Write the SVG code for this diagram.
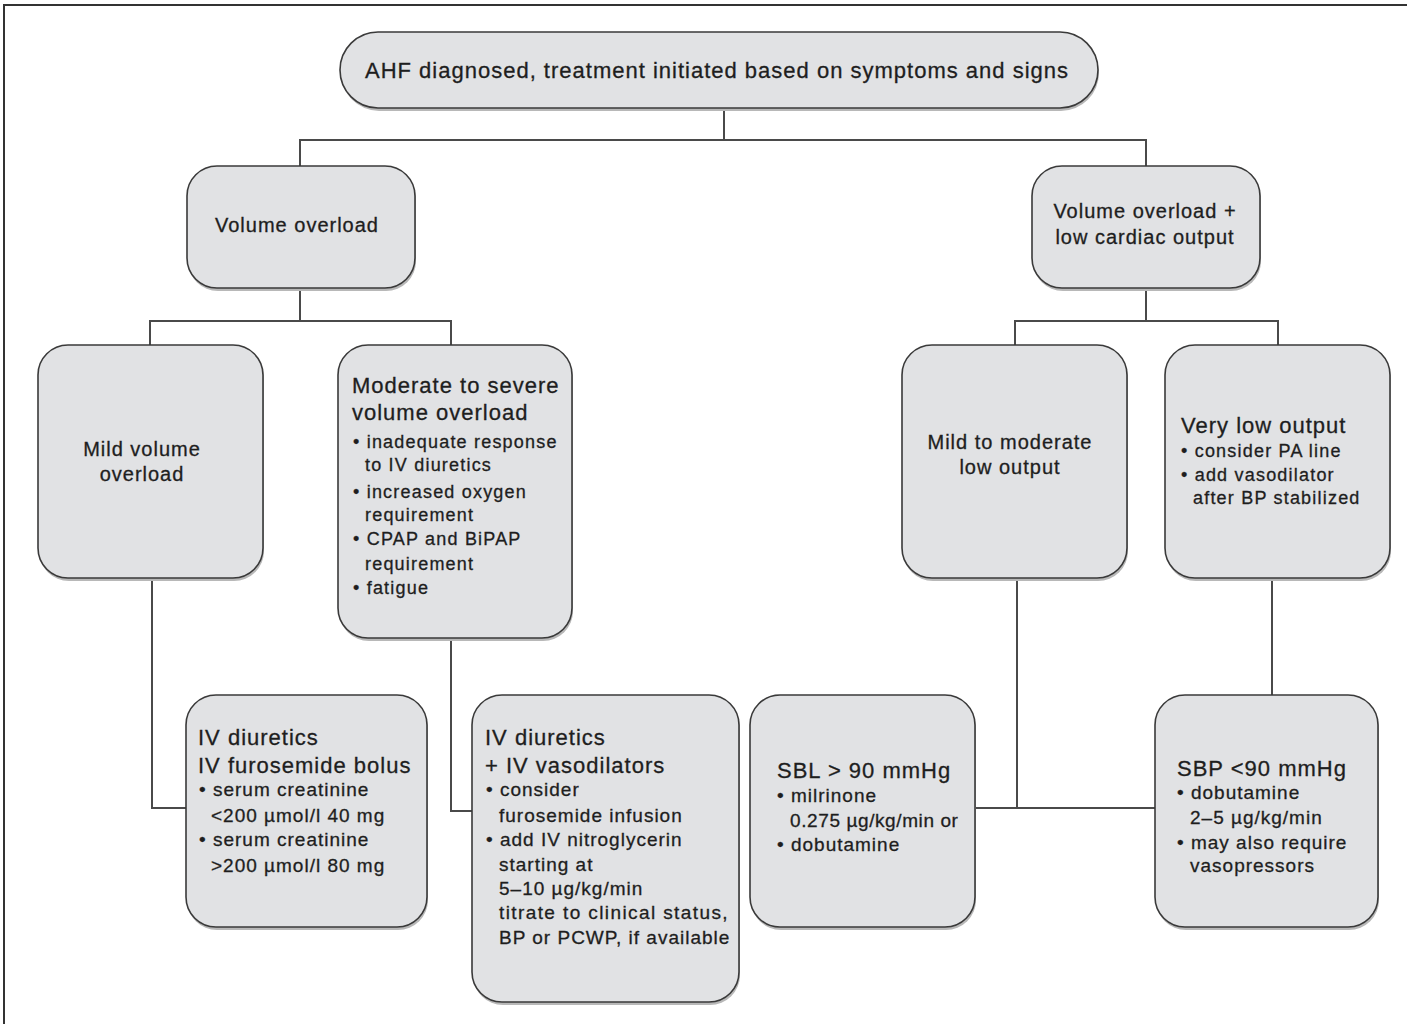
<svg xmlns="http://www.w3.org/2000/svg" width="1407" height="1024" viewBox="0 0 1407 1024">
<style>
.bx{fill:#e1e2e4;stroke:#3a3a3a;stroke-width:1.6}
.sh{fill:#b8b8b8}
.cn{fill:none;stroke:#4a4a4a;stroke-width:2}
text{font-family:"Liberation Sans",Arial,sans-serif;fill:#1e1e1e;stroke:#1e1e1e;stroke-width:0.3}
.h{font-size:20px;letter-spacing:1px}
.h2{font-size:22px;letter-spacing:1px}
.b{font-size:18px;letter-spacing:1.2px}
.s{font-size:19px;letter-spacing:1px}
.m{text-anchor:middle}
</style>
<rect width="1407" height="1024" fill="#fff"/>
<path d="M4,1024 V5 H1407" fill="none" stroke="#333" stroke-width="2"/>
<g id="connectors">
<path class="cn" d="M724,108 V140 M300,166 V140 H1146 V166"/>
<path class="cn" d="M300,288 V321 M150,345 V321 H451 V345"/>
<path class="cn" d="M1146,288 V321 M1015,345 V321 H1278 V345"/>
<path class="cn" d="M152,578 V808 H186"/>
<path class="cn" d="M451,638 V811 H472"/>
<path class="cn" d="M1017,578 V808 M975,808 H1155"/>
<path class="cn" d="M1272,578 V695"/>
</g>
<g id="n-top">
<rect class="sh" x="341" y="35" width="758" height="76" rx="38"/>
<rect class="bx" x="340" y="32" width="758" height="76" rx="38"/>
<text class="h2 m" x="717" y="78">AHF diagnosed, treatment initiated based on symptoms and signs</text>
</g>
<g id="n-vo">
<rect class="sh" x="188" y="169" width="228" height="122" rx="30"/>
<rect class="bx" x="187" y="166" width="228" height="122" rx="30"/>
<text class="h m" x="297" y="232">Volume overload</text>
</g>
<g id="n-vlco">
<rect class="sh" x="1033" y="169" width="228" height="122" rx="30"/>
<rect class="bx" x="1032" y="166" width="228" height="122" rx="30"/>
<text class="h m" x="1145" y="218">Volume overload +</text>
<text class="h m" x="1145" y="244">low cardiac output</text>
</g>
<g id="n-mild">
<rect class="sh" x="39" y="348" width="225" height="233" rx="30"/>
<rect class="bx" x="38" y="345" width="225" height="233" rx="30"/>
<text class="h m" x="142" y="456">Mild volume</text>
<text class="h m" x="142" y="481">overload</text>
</g>
<g id="n-mod">
<rect class="sh" x="339" y="348" width="234" height="293" rx="30"/>
<rect class="bx" x="338" y="345" width="234" height="293" rx="30"/>
<text class="h2" x="352" y="393">Moderate to severe</text>
<text class="h2" x="352" y="420">volume overload</text>
<text class="b" x="353" y="448">• inadequate response</text>
<text class="b" x="365" y="471">to IV diuretics</text>
<text class="b" x="353" y="498">• increased oxygen</text>
<text class="b" x="365" y="521">requirement</text>
<text class="b" x="353" y="545">• CPAP and BiPAP</text>
<text class="b" x="365" y="570">requirement</text>
<text class="b" x="353" y="594">• fatigue</text>
</g>
<g id="n-mlo">
<rect class="sh" x="903" y="348" width="225" height="233" rx="30"/>
<rect class="bx" x="902" y="345" width="225" height="233" rx="30"/>
<text class="h m" x="1010" y="449">Mild to moderate</text>
<text class="h m" x="1010" y="474">low output</text>
</g>
<g id="n-vlo">
<rect class="sh" x="1166" y="348" width="225" height="233" rx="30"/>
<rect class="bx" x="1165" y="345" width="225" height="233" rx="30"/>
<text class="h2" x="1181" y="433">Very low output</text>
<text class="b" x="1181" y="457">• consider PA line</text>
<text class="b" x="1181" y="481">• add vasodilator</text>
<text class="b" x="1193" y="504">after BP stabilized</text>
</g>
<g id="n-ivd">
<rect class="sh" x="187" y="698" width="241" height="232" rx="30"/>
<rect class="bx" x="186" y="695" width="241" height="232" rx="30"/>
<text class="h2" x="198" y="745">IV diuretics</text>
<text class="h2" x="198" y="773">IV furosemide bolus</text>
<text class="s" x="199" y="796">• serum creatinine</text>
<text class="s" x="211" y="822">&lt;200 µmol/l 40 mg</text>
<text class="s" x="199" y="846">• serum creatinine</text>
<text class="s" x="211" y="872">&gt;200 µmol/l 80 mg</text>
</g>
<g id="n-ivv">
<rect class="sh" x="473" y="698" width="267" height="307" rx="30"/>
<rect class="bx" x="472" y="695" width="267" height="307" rx="30"/>
<text class="h2" x="485" y="745">IV diuretics</text>
<text class="h2" x="485" y="773">+ IV vasodilators</text>
<text class="s" x="486" y="796">• consider</text>
<text class="s" x="499" y="822">furosemide infusion</text>
<text class="s" x="486" y="846">• add IV nitroglycerin</text>
<text class="s" x="499" y="871">starting at</text>
<text class="s" x="499" y="895">5–10 µg/kg/min</text>
<text class="s" x="499" y="919" style="letter-spacing:1.4px">titrate to clinical status,</text>
<text class="s" x="499" y="944">BP or PCWP, if available</text>
</g>
<g id="n-sbl">
<rect class="sh" x="751" y="698" width="225" height="232" rx="30"/>
<rect class="bx" x="750" y="695" width="225" height="232" rx="30"/>
<text class="h2" x="777" y="778">SBL &gt; 90 mmHg</text>
<text class="s" x="777" y="802">• milrinone</text>
<text class="s" x="790" y="827" style="letter-spacing:0.6px">0.275 µg/kg/min or</text>
<text class="s" x="777" y="851">• dobutamine</text>
</g>
<g id="n-sbp">
<rect class="sh" x="1156" y="698" width="223" height="232" rx="30"/>
<rect class="bx" x="1155" y="695" width="223" height="232" rx="30"/>
<text class="h2" x="1177" y="776">SBP &lt;90 mmHg</text>
<text class="s" x="1177" y="799">• dobutamine</text>
<text class="s" x="1190" y="824">2–5 µg/kg/min</text>
<text class="s" x="1177" y="849">• may also require</text>
<text class="s" x="1190" y="872">vasopressors</text>
</g>
</svg>
